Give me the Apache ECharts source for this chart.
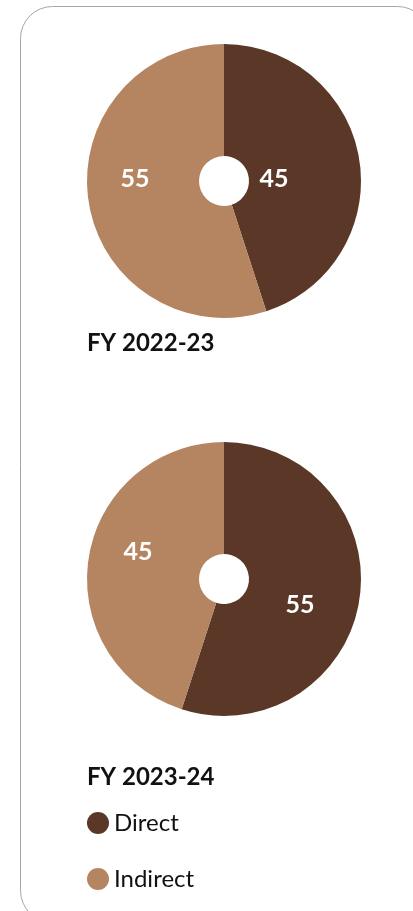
<!DOCTYPE html>
<html>
<head>
<meta charset="utf-8">
<script src="https://cdn.jsdelivr.net/npm/echarts@6/dist/echarts.min.js"></script>
<style>
  html, body { margin: 0; padding: 0; background: #fff; }
</style>
</head>
<body>
<div id="main" style="width: 413px; height: 911px;"></div>
<script>
  // data
  var categories = ['Direct', 'Indirect'];
  var years = ['FY 2022-23', 'FY 2023-24'];
  var fy2223 = [45, 55];
  var fy2324 = [55, 45];

  var colors = ['#5a3726', '#b58461'];
  var font = 'Lato, "Noto Sans", sans-serif';

  // nudge the inside labels to where the original has them
  var labelNudge = [
    [[-33, 11], [-6, -15]],
    [[-7, 13], [-3, -14]]
  ];

  function pieData(values) {
    return values.map(function (v, i) {
      return { name: categories[i], value: v };
    });
  }

  function pieSeries(values, cy) {
    return {
      type: 'pie',
      center: [224, cy],
      radius: [25, 137],
      startAngle: 90,
      clockwise: true,
      silent: true,
      animation: false,
      itemStyle: { borderWidth: 0 },
      label: {
        show: true,
        position: 'inside',
        formatter: '{c}',
        color: '#fff',
        fontFamily: font,
        fontWeight: 'bold',
        fontSize: 25
      },
      labelLine: { show: false },
      labelLayout: function (p) {
        var n = labelNudge[p.seriesIndex][p.dataIndex];
        return { dx: n[0], dy: n[1] };
      },
      data: pieData(values)
    };
  }

  var chart = echarts.init(document.getElementById('main'));
  chart.setOption({
    backgroundColor: '#fff',
    color: colors,
    graphic: [{
      type: 'rect',
      silent: true,
      shape: { x: 20.5, y: 6.5, width: 409, height: 916, r: 32 },
      style: { fill: 'none', stroke: '#a6a6a6', lineWidth: 1 }
    }],
    title: [
      {
        text: years[0], left: 82, top: 326,
        textStyle: { fontFamily: font, fontWeight: 'bold', fontSize: 24, color: '#111' }
      },
      {
        text: years[1], left: 82, top: 760,
        textStyle: { fontFamily: font, fontWeight: 'bold', fontSize: 24, color: '#111' }
      }
    ],
    legend: {
      orient: 'vertical',
      left: 82,
      top: 806,
      icon: 'circle',
      itemWidth: 22,
      itemHeight: 22,
      itemGap: 32,
      selectedMode: false,
      data: categories,
      textStyle: { fontFamily: font, fontSize: 24, color: '#111' }
    },
    series: [
      pieSeries(fy2223, 181),
      pieSeries(fy2324, 579)
    ]
  });
</script>
</body>
</html>
